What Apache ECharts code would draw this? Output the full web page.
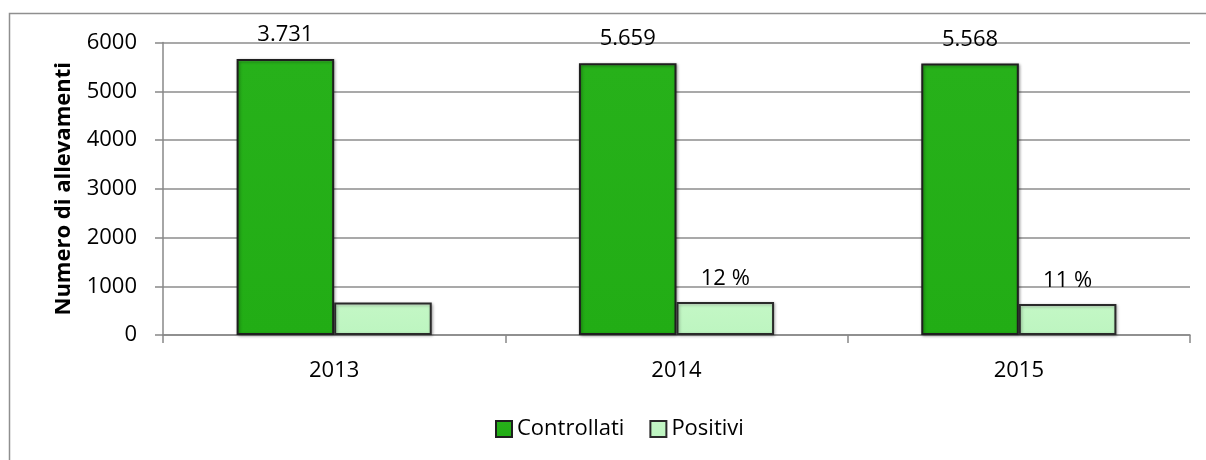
<!DOCTYPE html>
<html>
<head>
<meta charset="utf-8">
<script src="https://cdn.jsdelivr.net/npm/echarts@6/dist/echarts.min.js"></script>
<style>
html,body{margin:0;padding:0;background:#fff;}
#chart{width:1206px;height:460px;}
</style>
</head>
<body>
<div id="chart"></div>
<script>
const years = ['2013', '2014', '2015'];
const controllati = [5660, 5575, 5570];
const positivi = [665, 675, 635];
const controllatiLabels = ['3.731', '5.659', '5.568'];
const positiviLabels = ['', '12 %', '11 %'];
const yTicks = [0, 1000, 2000, 3000, 4000, 5000, 6000];

const FONT = 'Open Sans';
const chart = echarts.init(document.getElementById('chart'));
chart.setOption({
  animation: false,
  backgroundColor: '#fff',
  textStyle: { fontFamily: FONT, color: '#000' },
  graphic: [{
    type: 'rect',
    shape: { x: 9.5, y: 13.5, width: 1400, height: 600 },
    style: { fill: 'none', stroke: '#8f8f8f', lineWidth: 1.5 },
    silent: true
  }],
  grid: { left: 163, right: 16, top: 42.5, bottom: 125, containLabel: false },
  legend: {
    left: 490, top: 413,
    icon: 'rect',
    itemWidth: 16, itemHeight: 16, itemGap: 25,
    textStyle: { fontFamily: FONT, fontSize: 22, color: '#000' },
    data: ['Controllati', 'Positivi']
  },
  xAxis: {
    type: 'category',
    data: years,
    axisLine: { lineStyle: { color: '#888', width: 1.5 } },
    axisTick: { show: true, length: 8, lineStyle: { color: '#888', width: 1.5 } },
    axisLabel: { fontFamily: FONT, fontSize: 22, color: '#000', margin: 25 }
  },
  yAxis: {
    type: 'value',
    min: yTicks[0], max: yTicks[yTicks.length - 1], interval: 1000,
    name: 'Numero di allevamenti',
    nameLocation: 'middle',
    nameGap: 88,
    nameRotate: 90,
    nameTextStyle: { fontFamily: FONT, fontSize: 22, fontWeight: 'bold', color: '#000' },
    axisLine: { show: true, lineStyle: { color: '#888', width: 1.5 } },
    axisTick: { show: true, length: 8, lineStyle: { color: '#888', width: 1.5 } },
    axisLabel: { fontFamily: FONT, fontSize: 22, color: '#000', margin: 26, formatter: v => String(v) },
    splitLine: { lineStyle: { color: '#8c8c8c', width: 1.5 } }
  },
  series: [{
    name: 'Controllati',
    type: 'bar',
    data: controllati,
    barGap: '0%',
    barCategoryGap: '43%',
    itemStyle: {
      color: new echarts.graphic.LinearGradient(0, 0, 0, 1, [
        { offset: 0, color: '#5fd455' },
        { offset: 0.012, color: '#27b11a' },
        { offset: 1, color: '#22ad15' }
      ]),
      borderColor: '#1f1f1f', borderWidth: 2,
      shadowColor: 'rgba(0,0,0,0.35)', shadowBlur: 3, shadowOffsetX: 1, shadowOffsetY: 1
    },
    label: {
      show: true, position: 'top', distance: 13,
      fontFamily: FONT, fontSize: 22, color: '#000',
      formatter: p => controllatiLabels[p.dataIndex]
    }
  }, {
    name: 'Positivi',
    type: 'bar',
    data: positivi,
    itemStyle: {
      color: new echarts.graphic.LinearGradient(0, 0, 0, 1, [
        { offset: 0, color: '#f2fff2' },
        { offset: 0.12, color: '#c3f7c5' },
        { offset: 1, color: '#bdf5c0' }
      ]),
      borderColor: '#2a2a2a', borderWidth: 2,
      shadowColor: 'rgba(0,0,0,0.3)', shadowBlur: 3, shadowOffsetX: 1, shadowOffsetY: 1
    },
    label: {
      show: true, position: 'top', distance: 12,
      fontFamily: FONT, fontSize: 22, color: '#000',
      formatter: p => positiviLabels[p.dataIndex]
    }
  }]
});
</script>
</body>
</html>
